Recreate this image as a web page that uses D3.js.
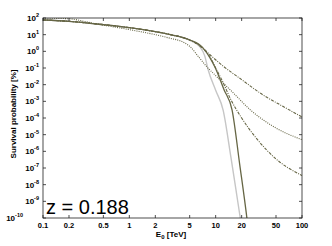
<!DOCTYPE html>
<html>
<head>
<meta charset="utf-8">
<script src="https://cdn.jsdelivr.net/npm/d3@7/dist/d3.min.js"></script>
<style>
  body { margin: 0; background: #fff; }
  svg { display: block; }
  text { font-family: Arial, "Liberation Sans", sans-serif; }
</style>
</head>
<body>
<svg id="chart" width="332" height="246"></svg>
<script>
// tick values
const xTicks = [0.1, 0.2, 0.5, 1, 2, 5, 10, 20, 50, 100];
const yExps = [2, 1, 0, -1, -2, -3, -4, -5, -6, -7, -8, -9, -10];

// low energy part shared by the solid and dash-dot curves (E in TeV, P in %)
const bandE = [0.1, 0.2, 0.5, 1, 2, 3, 5];
const bandP = [75.9, 63.1, 39.8, 26.3, 15.1, 10, 4.8];

// grey solid
const greyE = [6.5, 7.5, 8.2, 10, 12.2, 15, 17, 19.2, 20];
const greyP = [2.0, 0.5, 0.076, 4.6e-3, 3e-4, 4.6e-7, 7.2e-9, 1.15e-10, 3.2e-11];

// olive solid
const solidE = [7, 8.5, 9.8, 12.5, 15.5, 19, 23, 24];
const solidP = [1.78, 0.45, 0.115, 5e-3, 3e-4, 1.6e-7, 1e-10, 1.6e-11];

// upper dash-dot
const dashAE = [7, 9, 12, 20, 35, 60, 100];
const dashAP = [1.66, 0.5, 0.14, 0.02, 2.5e-3, 5e-4, 1.15e-4];

// lower dash-dot
const dashBE = [7, 8.5, 10, 12, 15, 20, 30, 50, 100];
const dashBP = [1.58, 0.5, 0.1, 0.016, 1.26e-3, 1e-4, 5.6e-6, 3.5e-7, 3.5e-8];

// dotted
const dotE = [0.1, 0.2, 0.3, 0.45, 0.5, 1, 2, 3, 4, 5, 6.5, 8, 10, 16, 25, 50, 100];
const dotP = [98, 90, 63, 40, 37, 20, 10, 6.0, 4.0, 2.0, 0.4, 0.11, 0.035, 3.2e-3, 3.2e-4, 2.5e-5, 5e-6];

const olive = "#666645";
const margins = {left: 43, right: 302, top: 18, bottom: 218};

const svg = d3.select("#chart");

const x = d3.scaleLog().domain([0.1, 100]).range([margins.left, margins.right]);
const y = d3.scaleLog().domain([1e-10, 1e2]).range([margins.bottom, margins.top]);

function pts(E, P) {
    return E.map((e, i) => [e, P[i]]);
}

const series = [
    {data: pts(bandE, bandP).concat(pts(greyE, greyP)), color: "#c6c6c6", width: 1.4, dash: null},
    {data: pts(bandE, bandP).concat(pts(dashAE, dashAP)), color: olive, width: 1.1, dash: "3,1.2,1,1.2"},
    {data: pts(bandE, bandP).concat(pts(dashBE, dashBP)), color: olive, width: 1.1, dash: "3,1.2,1,1.2"},
    {data: pts(dotE, dotP), color: olive, width: 1.1, dash: "1,1.2"},
    {data: pts(bandE, bandP).concat(pts(solidE, solidP)), color: olive, width: 1.3, dash: null}
];

const pw = margins.right - margins.left, ph = margins.bottom - margins.top;

svg.append("clipPath").attr("id", "plotclip")
    .append("rect")
    .attr("x", margins.left).attr("y", margins.top)
    .attr("width", pw).attr("height", ph);

const line = d3.line()
    .x(d => x(d[0]))
    .y(d => y(d[1]))
    .curve(d3.curveMonotoneX);

svg.append("g").attr("clip-path", "url(#plotclip)")
    .selectAll("path").data(series).enter().append("path")
    .attr("d", d => line(d.data))
    .attr("fill", "none")
    .attr("stroke", d => d.color)
    .attr("stroke-width", d => d.width)
    .attr("stroke-dasharray", d => d.dash);

// frame
svg.append("rect")
    .attr("x", margins.left).attr("y", margins.top)
    .attr("width", pw).attr("height", ph)
    .attr("fill", "none").attr("stroke", "#222").attr("stroke-width", 0.8);

// ticks, pointing inwards on all four sides
const tickLen = 3;
const tg = svg.append("g").attr("stroke", "#222").attr("stroke-width", 0.8);
xTicks.forEach(t => {
    tg.append("line").attr("x1", x(t)).attr("x2", x(t)).attr("y1", margins.bottom).attr("y2", margins.bottom - tickLen);
    tg.append("line").attr("x1", x(t)).attr("x2", x(t)).attr("y1", margins.top).attr("y2", margins.top + tickLen);
});
yExps.forEach(e => {
    const v = Math.pow(10, e);
    tg.append("line").attr("x1", margins.left).attr("x2", margins.left + tickLen).attr("y1", y(v)).attr("y2", y(v));
    tg.append("line").attr("x1", margins.right).attr("x2", margins.right - tickLen).attr("y1", y(v)).attr("y2", y(v));
});

// x tick labels
svg.append("g").selectAll("text").data(xTicks).enter().append("text")
    .attr("x", d => x(d))
    .attr("y", 228)
    .attr("text-anchor", "middle")
    .attr("font-size", 7.5)
    .attr("font-weight", "bold")
    .text(d => d3.format("~g")(d));

// y tick labels: 10 with superscript exponent
// (the lowest one sits further left, as in the original figure)
const yl = svg.append("g").selectAll("text").data(yExps).enter().append("text")
    .attr("x", d => d === -10 ? 23 : 39)
    .attr("y", d => y(Math.pow(10, d)) + 3)
    .attr("text-anchor", "end")
    .attr("font-size", 8)
    .attr("font-weight", "bold");
yl.append("tspan").text("10");
yl.append("tspan")
    .attr("dy", -4)
    .attr("font-size", 5.5)
    .text(d => d < 0 ? "-" + (-d) : d);

// axis titles
const xt = svg.append("text")
    .attr("x", 171).attr("y", 237)
    .attr("text-anchor", "middle")
    .attr("font-size", 8)
    .attr("font-weight", "bold");
xt.append("tspan").text("E");
xt.append("tspan").attr("dy", 2).attr("font-size", 6).text("0");
xt.append("tspan").attr("dy", -2).text(" [TeV]");

svg.append("text")
    .attr("transform", "translate(16,114) rotate(-90)")
    .attr("text-anchor", "middle")
    .attr("font-size", 8)
    .attr("font-weight", "bold")
    .text("Survival probability [%]");

// redshift label
svg.append("text")
    .attr("x", 46).attr("y", 214)
    .attr("font-size", 20)
    .text("z = 0.188");
</script>
</body>
</html>
